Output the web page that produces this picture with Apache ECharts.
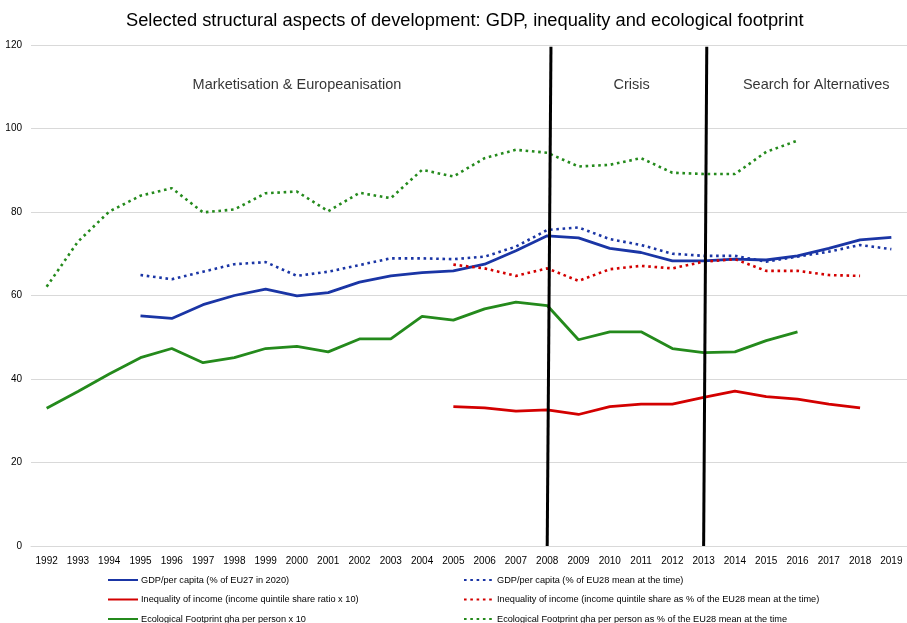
<!DOCTYPE html>
<html>
<head>
<meta charset="utf-8">
<script src="https://cdn.jsdelivr.net/npm/echarts@6/dist/echarts.min.js"></script>
<style>html,body{margin:0;padding:0;background:#fff;}#c{width:907px;height:623px;}</style>
</head>
<body>
<div id="c"></div>
<script>
const years = ['1992','1993','1994','1995','1996','1997','1998','1999','2000','2001','2002','2003','2004','2005','2006','2007','2008','2009','2010','2011','2012','2013','2014','2015','2016','2017','2018','2019'];
const yTicks = [0, 20, 40, 60, 80, 100, 120];

const gdpEU27 = [null,null,null,55.1,54.5,57.8,60.0,61.5,59.9,60.7,63.2,64.7,65.5,65.9,67.5,70.7,74.3,73.8,71.3,70.3,68.3,68.3,68.7,68.5,69.5,71.3,73.3,73.9];
const gdpEU28 = [null,null,null,64.9,63.9,65.7,67.5,68.0,64.7,65.7,67.3,68.9,68.9,68.7,69.3,71.7,75.7,76.3,73.5,72.1,70.0,69.5,69.5,68.1,69.3,70.5,72.1,71.1];
const ineqX10 = [null,null,null,null,null,null,null,null,null,null,null,null,null,33.4,33.1,32.3,32.6,31.5,33.4,34.0,34.0,35.6,37.1,35.8,35.2,34.0,33.1,null];
const ineqEU28 = [null,null,null,null,null,null,null,null,null,null,null,null,null,67.4,66.5,64.7,66.5,63.5,66.3,67.1,66.5,68.1,68.7,65.9,65.9,64.9,64.7,null];
const ecoX10 = [33.0,37.0,41.2,45.1,47.3,43.9,45.1,47.3,47.8,46.5,49.6,49.6,55.0,54.1,56.8,58.4,57.6,49.4,51.3,51.3,47.3,46.3,46.5,49.2,51.3,null,null,null];
const ecoEU28 = [62.1,72.9,80.1,83.9,85.7,79.9,80.6,84.5,84.9,80.2,84.6,83.3,90.1,88.5,92.9,94.9,94.2,90.9,91.3,92.9,89.4,89.1,89.1,94.4,97.1,null,null,null];

const seriesNames = [
  'GDP/per capita (% of EU27 in 2020)',
  'Inequality of income (income quintile share ratio x 10)',
  'Ecological Footprint gha per person x 10',
  'GDP/per capita (% of EU28 mean at the time)',
  'Inequality of income (income quintile share as % of the EU28 mean at the time)',
  'Ecological Footprint gha per person as % of the EU28 mean at the time'
];
const periodYears = [2008, 2013];
const periodLabels = ['Marketisation & Europeanisation', 'Crisis', 'Search for Alternatives'];
const periodLabelYears = [2000.0, 2010.7, 2016.6];
const periodLabelLevel = 110.3;

const BLUE = '#1a35a5', RED = '#d30000', GREEN = '#248a1c';
const FONT = 'Liberation Sans, Arial, sans-serif';
const DOT = [2.6, 3.7];

function lineSeries(name, data, color, dotted) {
  return {
    name: name, type: 'line', data: data, symbol: 'none', connectNulls: false,
    xAxisIndex: 0, yAxisIndex: 0, z: 3,
    lineStyle: { color: color, width: dotted ? 2.6 : 2.8, type: dotted ? DOT : 'solid', cap: 'butt' },
    itemStyle: { color: color },
    emphasis: { disabled: true }, animation: false
  };
}

const series = [
  lineSeries(seriesNames[0], gdpEU27, BLUE, false),
  lineSeries(seriesNames[1], ineqX10, RED, false),
  lineSeries(seriesNames[2], ecoX10, GREEN, false),
  lineSeries(seriesNames[3], gdpEU28, BLUE, true),
  lineSeries(seriesNames[4], ineqEU28, RED, true),
  lineSeries(seriesNames[5], ecoEU28, GREEN, true)
];
const lean = [0.12, 0.1];
periodYears.forEach(function (yr, i) {
  series.push({
    type: 'line', xAxisIndex: 1, yAxisIndex: 0, symbol: 'none', z: 10, silent: true, animation: false,
    data: [[yr + lean[i], 119.6], [yr, 0]],
    lineStyle: { color: '#000', width: 3 }
  });
});
series.push({
  type: 'scatter', xAxisIndex: 1, yAxisIndex: 0, symbolSize: 0, silent: true, animation: false,
  data: periodLabels.map(function (t, i) { return { name: t, value: [periodLabelYears[i], periodLabelLevel] }; }),
  label: { show: true, position: 'inside', formatter: '{b}', color: '#000', fontSize: 14.5, fontFamily: FONT }
});

const legendCommon = {
  orient: 'vertical', top: 575.5, height: 60, padding: 0,
  itemWidth: 30, itemHeight: 9, itemGap: 10.5,
  itemStyle: { opacity: 0 },
  textStyle: { fontSize: 9.2, color: '#000', fontFamily: FONT, padding: [0, 0, 0, -2] },
  selectedMode: false
};

const option = {
  backgroundColor: '#fff',
  animation: false,
  title: {
    text: 'Selected structural aspects of development: GDP, inequality and ecological footprint',
    left: 121, top: 7,
    textStyle: { fontSize: 18.3, fontWeight: 'normal', color: '#000', fontFamily: FONT }
  },
  grid: { left: 31, right: 0, top: 45, bottom: 77, containLabel: false },
  xAxis: [
    {
      type: 'category', data: years, boundaryGap: true,
      axisLine: { lineStyle: { color: '#d9d9d9', width: 1 } },
      axisTick: { show: false },
      axisLabel: { interval: 0, color: '#000', fontSize: 10, fontFamily: FONT, margin: 10 },
      splitLine: { show: false }
    },
    { type: 'value', min: 1991.5, max: 2019.5, show: false }
  ],
  yAxis: {
    type: 'value', min: yTicks[0], max: yTicks[yTicks.length - 1], interval: 20,
    axisLine: { show: false }, axisTick: { show: false },
    axisLabel: { color: '#000', fontSize: 10, fontFamily: FONT, margin: 9 },
    splitLine: { lineStyle: { color: '#d9d9d9', width: 1 } }
  },
  legend: [
    Object.assign({}, legendCommon, { left: 107, data: seriesNames.slice(0, 3) }),
    Object.assign({}, legendCommon, { left: 463, data: seriesNames.slice(3, 6) })
  ],
  series: series
};

const chart = echarts.init(document.getElementById('c'), null, { renderer: 'canvas' });
chart.setOption(option);
</script>
</body>
</html>
